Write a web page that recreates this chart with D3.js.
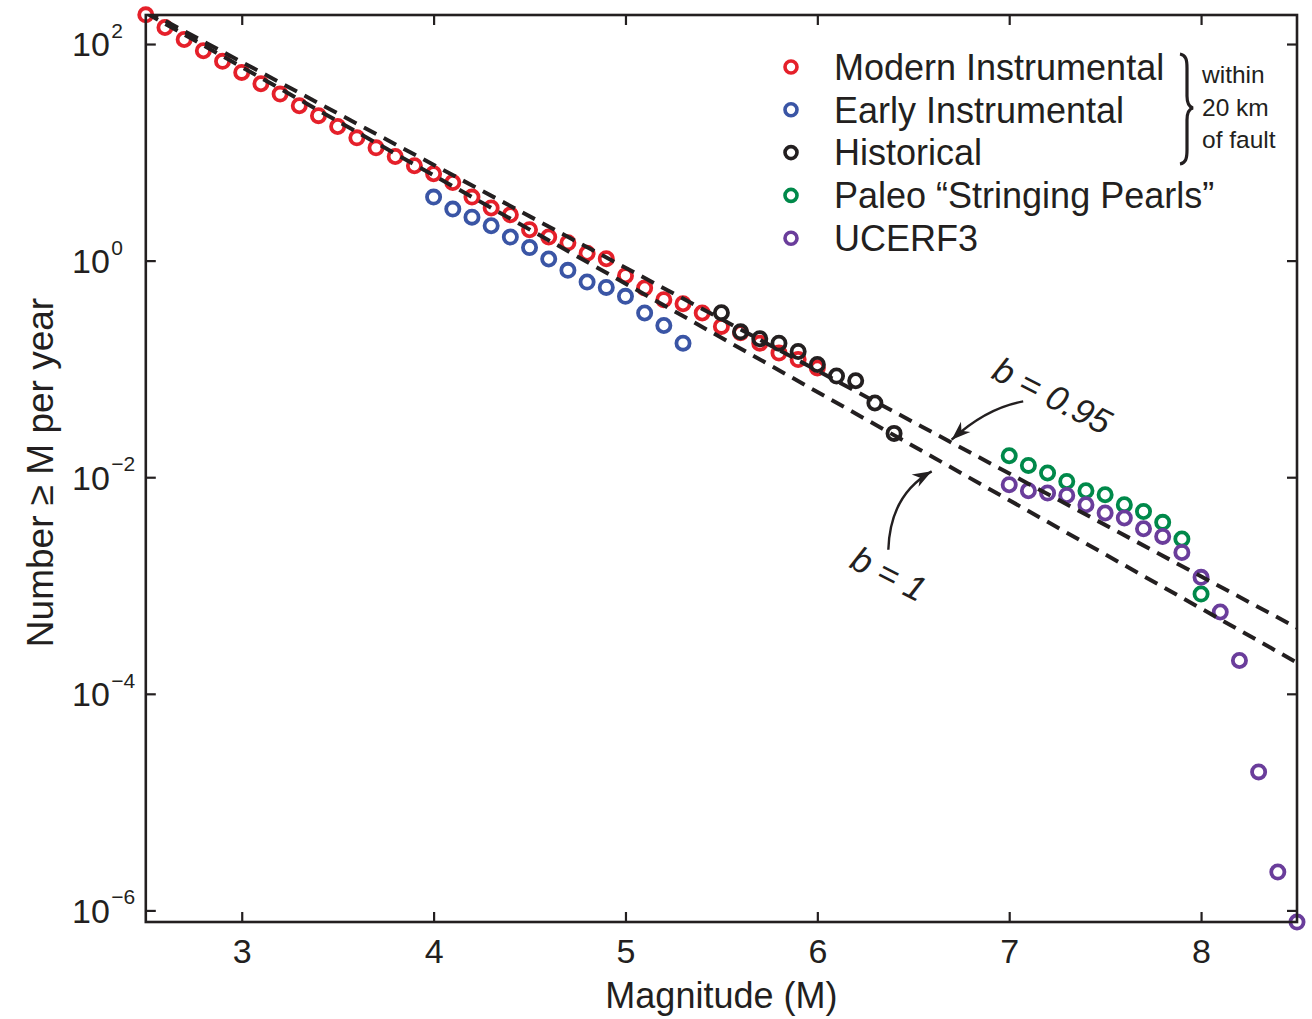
<!DOCTYPE html>
<html>
<head>
<meta charset="utf-8">
<script src="https://cdn.jsdelivr.net/npm/d3@7"></script>
<style>
  html, body { margin: 0; padding: 0; background: #fff; }
  svg { display: block; }
  text { font-family: "Liberation Sans", Arial, Helvetica, sans-serif; fill: #231f20; }
</style>
</head>
<body>
<svg id="chart" width="1312" height="1019"></svg>
<script>
// ---------------- DATA ----------------
const modernM = [2.5,2.6,2.7,2.8,2.9,3.0,3.1,3.2,3.3,3.4,3.5,3.6,3.7,3.8,3.9,4.0,4.1,4.2,4.3,4.4,4.5,4.6,4.7,4.8,4.9,5.0,5.1,5.2,5.3,5.4,5.5,5.6,5.7,5.8,5.9,6.0];
const modernN = [186,142,110,86.7,69.2,54.7,43.0,34.5,26.9,21.8,17.3,13.6,11.0,9.16,7.52,6.34,5.27,3.86,3.06,2.65,1.93,1.65,1.46,1.17,1.04,0.726,0.558,0.436,0.400,0.328,0.247,0.216,0.173,0.140,0.122,0.102];

const earlyM = [4.0,4.1,4.2,4.3,4.4,4.5,4.6,4.7,4.8,4.9,5.0,5.1,5.2,5.3];
const earlyN = [3.86,2.99,2.52,2.10,1.65,1.32,1.035,0.813,0.634,0.566,0.468,0.328,0.252,0.173];

const histM = [5.5,5.6,5.7,5.8,5.9,6.0,6.1,6.2,6.3,6.4];
const histN = [0.330,0.220,0.190,0.173,0.145,0.110,0.0859,0.0778,0.0484,0.0254];

const paleoM = [7.0,7.1,7.2,7.3,7.4,7.5,7.6,7.7,7.8,7.9,8.0];
const paleoN = [0.0158,0.01285,0.01094,0.00914,0.0075,0.00689,0.00557,0.00483,0.00383,0.00269,0.000834];

const ucerfM = [7.0,7.1,7.2,7.3,7.4,7.5,7.6,7.7,7.8,7.9,8.0,8.1,8.2,8.3,8.4,8.5];
const ucerfN = [0.00853,0.0075,0.00714,0.00679,0.00557,0.00467,0.0042,0.00334,0.00284,0.00202,0.00119,0.000569,0.000203,0.000019,0.00000226,0.00000078];

// Gutenberg-Richter reference lines: endpoints [M, N]
const lineB095 = [[2.5, 204], [8.5, 0.000407]];
const lineB1   = [[2.5, 194], [8.5, 0.000194]];

const xTicks = [3,4,5,6,7,8];
const yTickExp = [2,0,-2,-4,-6];

const legendLabels = ["Modern Instrumental","Early Instrumental","Historical","Paleo \u201cStringing Pearls\u201d","UCERF3"];
const braceNote = ["within","20 km","of fault"];

// annotations (data units)
const annB095 = {text:"b = 0.95", at:[6.90, 0.0832], arrow:[[7.073,0.0501],[6.883,0.0439],[6.700,0.0222]]};
const annB1   = {text:"b = 1",    at:[6.16, 0.00149], arrow:[[6.370,0.00214],[6.379,0.00689],[6.596,0.01133]]};

// ---------------- LAYOUT ----------------
const W = 1312, H = 1019;
const margin = {left: 145.8, right: 15, top: 15, bottom: 97};
const x = d3.scaleLinear().domain([2.5, 8.5]).range([margin.left, W - margin.right]);
const y = d3.scaleLog().domain([Math.pow(10,-6.107), Math.pow(10,2.268)]).range([H - margin.bottom, margin.top]);

const colors = ["#e5202a","#3a55a5","#231f20","#00894a","#6a3d9b"];
const series = [
  {M: modernM, N: modernN},
  {M: earlyM,  N: earlyN},
  {M: histM,   N: histN},
  {M: paleoM,  N: paleoN},
  {M: ucerfM,  N: ucerfN}
];

const svg = d3.select("#chart");
const x0 = x.range()[0], x1 = x.range()[1], y0 = y.range()[1], y1 = y.range()[0];

svg.append("defs").append("clipPath").attr("id","plotclip")
  .append("rect").attr("x", x0).attr("y", y0).attr("width", x1-x0).attr("height", y1-y0);

// markers
series.forEach((s, i) => {
  svg.append("g")
    .selectAll("circle")
    .data(s.M.map((m, j) => [m, s.N[j]]))
    .join("circle")
    .attr("cx", d => x(d[0]))
    .attr("cy", d => y(d[1]))
    .attr("r", 6.6)
    .attr("fill", "none")
    .attr("stroke", colors[i])
    .attr("stroke-width", 3.8);
});

// dashed lines
const lineGen = d3.line().x(d => x(d[0])).y(d => y(d[1]));
[lineB095, lineB1].forEach(l => {
  svg.append("path")
    .attr("d", lineGen(l))
    .attr("clip-path", "url(#plotclip)")
    .attr("fill", "none")
    .attr("stroke", "#231f20")
    .attr("stroke-width", 4)
    .attr("stroke-dasharray", "14,8.5");
});

// frame
svg.append("rect").attr("x", x0).attr("y", y0).attr("width", x1-x0).attr("height", y1-y0)
  .attr("fill","none").attr("stroke","#231f20").attr("stroke-width",2.6);

// axes ticks (inward)
const axB = svg.append("g").attr("transform", `translate(0,${y1})`)
  .call(d3.axisBottom(x).tickValues(xTicks).tickSizeInner(-10).tickSizeOuter(0).tickPadding(17).tickFormat(d3.format("d")));
const axT = svg.append("g").attr("transform", `translate(0,${y0})`)
  .call(d3.axisTop(x).tickValues(xTicks).tickSizeInner(-10).tickSizeOuter(0).tickFormat(""));
const yTickVals = yTickExp.map(e => Math.pow(10, e));
const axL = svg.append("g").attr("transform", `translate(${x0},0)`)
  .call(d3.axisLeft(y).tickValues(yTickVals).tickSizeInner(-10).tickSizeOuter(0).tickFormat(""));
const axR = svg.append("g").attr("transform", `translate(${x1},0)`)
  .call(d3.axisRight(y).tickValues(yTickVals).tickSizeInner(-10).tickSizeOuter(0).tickFormat(""));
[axB, axT, axL, axR].forEach(a => {
  a.select(".domain").remove();
  a.selectAll(".tick line").attr("stroke","#231f20").attr("stroke-width",2.2);
});
axB.selectAll(".tick text").attr("font-size", 34).attr("fill","#231f20")
  .style("font-family", '"Liberation Sans", Arial, sans-serif');

// y tick labels 10^n
const yl = svg.append("g");
yTickExp.forEach(e => {
  const t = yl.append("text").attr("x", 72).attr("y", y(Math.pow(10, e)) + 12.4).attr("font-size", 34);
  t.append("tspan").text("10");
  t.append("tspan").attr("dy", -18.5).attr("dx", 1.5).attr("font-size", 21).text(e === 0 ? "0" : (e < 0 ? "\u2212" + (-e) : String(e)));
});

// axis titles
svg.append("text").attr("x", (x0 + x1)/2).attr("y", 1008).attr("text-anchor","middle")
  .attr("font-size", 36).text("Magnitude (M)");
svg.append("text").attr("transform", `translate(53,${(y0+y1)/2 + 4}) rotate(-90)`).attr("text-anchor","middle")
  .attr("font-size", 37).text("Number \u2265 M per year");

// legend
const leg = svg.append("g");
legendLabels.forEach((lab, i) => {
  const cy = 67 + i * 42.8;
  leg.append("circle").attr("cx", 791).attr("cy", cy).attr("r", 6).attr("fill","none")
    .attr("stroke", colors[i]).attr("stroke-width", 3.6);
  leg.append("text").attr("x", 834).attr("y", cy + 12.8).attr("font-size", 36).text(lab);
});
// brace
leg.append("path")
  .attr("d", "M1180,54 C1186,55 1187,60 1187,68 L1187,96 C1187,104 1189,107 1193,108 C1189,109 1187,112 1187,120 L1187,150 C1187,158 1186,163 1180,164")
  .attr("fill","none").attr("stroke","#231f20").attr("stroke-width",3.2);
braceNote.forEach((t, i) => {
  leg.append("text").attr("x", 1202).attr("y", 83 + i * 32.6).attr("font-size", 24.5).text(t);
});

// annotations
function arrow(pts) {
  const p = pts.map(d => [x(d[0]), y(d[1])]);
  const [s, c, e] = p;
  svg.append("path").attr("d", `M${s[0]},${s[1]} Q${c[0]},${c[1]} ${e[0]},${e[1]}`)
    .attr("fill","none").attr("stroke","#231f20").attr("stroke-width",2.4);
  const ang = Math.atan2(e[1]-c[1], e[0]-c[0]);
  const L = 19, Wd = 7;
  const bx = e[0] - L*Math.cos(ang), by = e[1] - L*Math.sin(ang);
  const nx = -Math.sin(ang), ny = Math.cos(ang);
  const ix = e[0] - 0.7*L*Math.cos(ang), iy = e[1] - 0.7*L*Math.sin(ang);
  svg.append("path")
    .attr("d", `M${e[0]},${e[1]} L${bx + nx*Wd},${by + ny*Wd} L${ix},${iy} L${bx - nx*Wd},${by - ny*Wd} Z`)
    .attr("fill","#231f20");
}
arrow(annB095.arrow);
arrow(annB1.arrow);

const slopeAng = 27;
[annB095, annB1].forEach(a => {
  svg.append("text")
    .attr("transform", `translate(${x(a.at[0])},${y(a.at[1])}) rotate(${slopeAng})`)
    .attr("font-size", 35).attr("font-style","italic")
    .text(a.text);
});
</script>
</body>
</html>
